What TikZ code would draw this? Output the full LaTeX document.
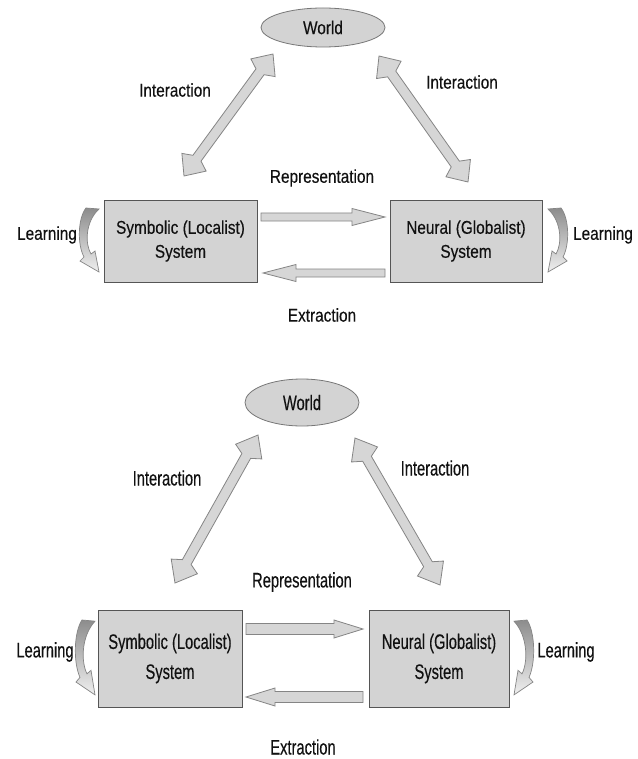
\documentclass[tikz,border=0pt]{standalone}
\usepackage{fontspec}
\setmainfont{Liberation Sans}
\newfontfamily\topfont{Liberation Sans}[FakeStretch=0.83,FakeBold=0.3]
\newfontfamily\botfont{Liberation Sans}[FakeStretch=0.70,FakeBold=0.3]
\usetikzlibrary{calc,shapes.geometric}
\definecolor{boxfill}{HTML}{D3D3D3}
\definecolor{boxline}{HTML}{555555}
\definecolor{arrfill}{HTML}{D6D6D6}
\definecolor{arrline}{HTML}{858585}
\definecolor{txt}{HTML}{111111}
\tikzset{
  topf/.style={font=\fontsize{18.5}{24}\topfont, text=txt},
  botf/.style={font=\fontsize{21}{30}\botfont, text=txt},
  sysbox/.style={draw=boxline, fill=boxfill, line width=0.9pt, align=center, inner sep=0pt},
  world/.style={ellipse, draw=boxline!80, fill=boxfill, line width=0.8pt, inner sep=0pt},
  blockarr/.style={draw=arrline, fill=arrfill, line width=0.8pt, line join=miter},
  learnarr/.pic={
    \draw[draw=arrline, line width=0.7pt, top color=gray!90, bottom color=gray!12]
      (7,0) .. controls (-1,10) and (-2,36) .. (5,49) -- (1,53) -- (20,64) -- (16,43) -- (12,46)
      .. controls (6,36) and (6,14) .. (20,1) -- cycle;
  }
}
% single block arrow: #1 from, #2 to, #3 half shaft, #4 half head, #5 head length
\newcommand\sblockarrow[5]{%
  \coordinate (hbx) at ($(#2)!#5!(#1)$);
  \draw[blockarr] ($(#1)!#3!90:(#2)$) -- ($(hbx)!#3!-90:(#1)$) -- ($(hbx)!#4!-90:(#1)$) -- (#2)
    -- ($(hbx)!#4!90:(#1)$) -- ($(hbx)!#3!90:(#1)$) -- ($(#1)!#3!-90:(#2)$) -- cycle;
}
% double block arrow: #1,#2 tips, #3 half shaft, #4 half head, #5 barb distance, #6 join distance
\newcommand\dblockarrow[6]{%
  \coordinate (hax) at ($(#1)!#5!(#2)$);
  \coordinate (hbx) at ($(#2)!#5!(#1)$);
  \coordinate (jax) at ($(#1)!#6!(#2)$);
  \coordinate (jbx) at ($(#2)!#6!(#1)$);
  \draw[blockarr] (#1) -- ($(hax)!#4!90:(#2)$) -- ($(jax)!#3!90:(#2)$) -- ($(jbx)!#3!-90:(#1)$)
    -- ($(hbx)!#4!-90:(#1)$) -- (#2) -- ($(hbx)!#4!90:(#1)$) -- ($(jbx)!#3!90:(#1)$)
    -- ($(jax)!#3!-90:(#2)$) -- ($(hax)!#4!-90:(#2)$) -- cycle;
}
\begin{document}
\begin{tikzpicture}[x=1pt, y=-1pt]
\useasboundingbox[fill=white] (0,0) rectangle (637,759);

%%%%%%%% TOP DIAGRAM
\node[world, minimum width=124pt, minimum height=39pt, topf] (w1) at (323,27.5) {World};
\node[sysbox, minimum width=153pt, minimum height=82pt, topf] (s1) at (180.5,241) {Symbolic (Localist)\\System};
\node[sysbox, minimum width=152pt, minimum height=82pt, topf] (n1) at (466,241) {Neural (Globalist)\\System};

\node[topf] (i1l) at (175,90) {Interaction};
\node[topf] (i1r) at (462,82) {Interaction};
\node[topf] (r1) at (322,178) {Representation};
\node[topf] (e1) at (322,315) {Extraction};
\node[topf] (l1l) at (47,235) {Learning};
\node[topf] (l1r) at (603,235) {Learning};

\coordinate (a1s) at (184,176); \coordinate (a1w) at (273,54);
\coordinate (a2w) at (379,56);  \coordinate (a2n) at (468,182);
\dblockarrow{a1s}{a1w}{5pt}{15pt}{17pt}{22pt}
\dblockarrow{a2w}{a2n}{5pt}{15pt}{17pt}{22pt}

\coordinate (rp1a) at (261,217); \coordinate (rp1b) at (385,217);
\coordinate (ex1a) at (385,273); \coordinate (ex1b) at (263,273);
\sblockarrow{rp1a}{rp1b}{4pt}{8.5pt}{33pt}
\sblockarrow{ex1a}{ex1b}{4pt}{8.5pt}{33pt}

\pic at (79,208) {learnarr};
\pic[xscale=-1] at (568,208) {learnarr};

%%%%%%%% BOTTOM DIAGRAM
\node[world, minimum width=114pt, minimum height=47pt, botf] (w2) at (302,402.5) {World};
\node[sysbox, minimum width=144pt, minimum height=97pt, botf] (s2) at (170,658.5) {Symbolic (Localist)\\System};
\node[sysbox, minimum width=140pt, minimum height=97pt, botf] (n2) at (439,658.5) {Neural (Globalist)\\System};

\node[botf] (i2l) at (167,478) {Interaction};
\node[botf] (i2r) at (435,468) {Interaction};
\node[botf] (r2) at (302,582) {Representation};
\node[botf] (e2) at (303,747) {Extraction};
\node[botf] (l2l) at (45,652) {Learning};
\node[botf] (l2r) at (566,652) {Learning};

\coordinate (b1s) at (175,583); \coordinate (b1w) at (258,435);
\coordinate (b2w) at (355,438); \coordinate (b2n) at (440,585);
\dblockarrow{b1s}{b1w}{5pt}{15pt}{19pt}{24pt}
\dblockarrow{b2w}{b2n}{5pt}{15pt}{19pt}{24pt}

\coordinate (rp2a) at (246,629); \coordinate (rp2b) at (363,629);
\coordinate (ex2a) at (363,697); \coordinate (ex2b) at (246,697);
\sblockarrow{rp2a}{rp2b}{5.5pt}{9pt}{29pt}
\sblockarrow{ex2a}{ex2b}{5.5pt}{9pt}{29pt}

\pic[yscale=1.17] at (75,620) {learnarr};
\pic[xscale=-1, yscale=1.17] at (534,620) {learnarr};
\end{tikzpicture}
\end{document}
